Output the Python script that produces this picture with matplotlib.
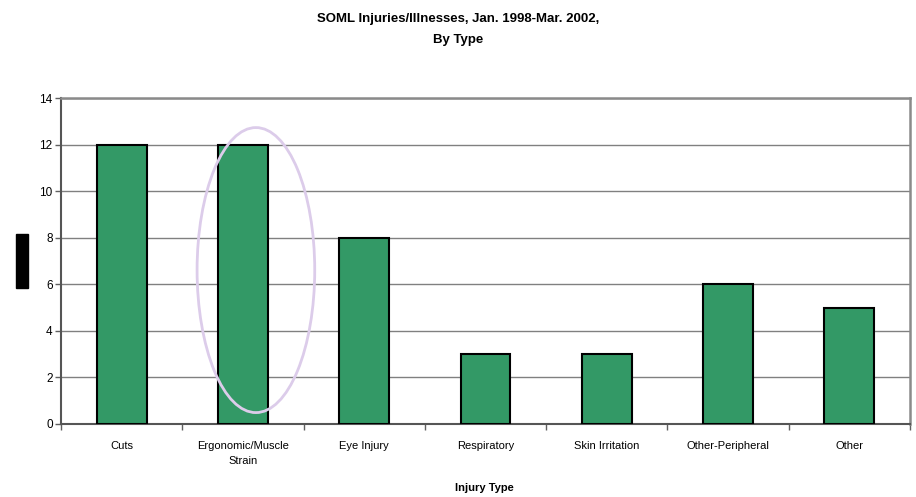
import matplotlib
matplotlib.use("Agg")
import matplotlib.pyplot as plt
from matplotlib.patches import Ellipse, Rectangle
import numpy as np

categories = ["Cuts", "Ergonomic/Muscle\nStrain", "Eye Injury", "Respiratory",
              "Skin Irritation", "Other-Peripheral", "Other"]
counts = [12, 12, 8, 3, 3, 6, 5]
yticks = [0, 2, 4, 6, 8, 10, 12, 14]

plt.rcParams['font.family'] = ['Liberation Sans', 'DejaVu Sans']

fig = plt.figure(figsize=(9.16, 4.97), dpi=100)
ax = fig.add_axes([61/916, 73/497, 849/916, 326/497])

x = np.arange(len(categories))
ax.bar(x, counts, width=0.41, color="#339966", edgecolor="black", linewidth=1.5, zorder=3)

ax.set_xlim(-0.5, len(categories) - 0.5)
ax.set_ylim(0, 14)
ax.set_yticks(yticks)
ax.yaxis.grid(True, color="#808080", linewidth=1.0, zorder=0)
ax.set_axisbelow(True)

ax.set_xticks(x)
ax.set_xticklabels(categories, fontsize=8, linespacing=1.7)
ax.set_xticks(np.arange(-0.5, len(categories)), minor=True)
ax.tick_params(axis='x', which='major', length=0, pad=12)
ax.tick_params(axis='x', which='minor', length=4, width=1, color="#606060", direction='out')
ax.tick_params(axis='y', length=4, width=1, color="#606060", labelsize=8.5, pad=2)

for s in ['left', 'bottom']:
    ax.spines[s].set_color("#555555")
    ax.spines[s].set_linewidth(1.5)
for s in ['right', 'top']:
    ax.spines[s].set_color("#8a8a8a")
    ax.spines[s].set_linewidth(1.8)

fig.text(484/916, 1 - 488/497, "Injury Type", ha='center', va='center',
         fontsize=8, fontweight='bold')

fig.text(0.5, 1 - 13/497, "SOML Injuries/Illnesses, Jan. 1998-Mar. 2002,\nBy Type",
         ha='center', va='top', fontsize=9.5, fontweight='bold', linespacing=2.0)

# highlight ellipse around second bar
ell = Ellipse((1.107, 6.61), width=0.97, height=12.24, fill=False,
              edgecolor="#dcccea", linewidth=2, zorder=4, clip_on=False)
ax.add_patch(ell)

# redacted label block
fig.patches.append(Rectangle((16/916, 1 - 288/497), 12/916, 54/497,
                             transform=fig.transFigure, color="black", figure=fig))

fig.savefig("out.png", dpi=100)
